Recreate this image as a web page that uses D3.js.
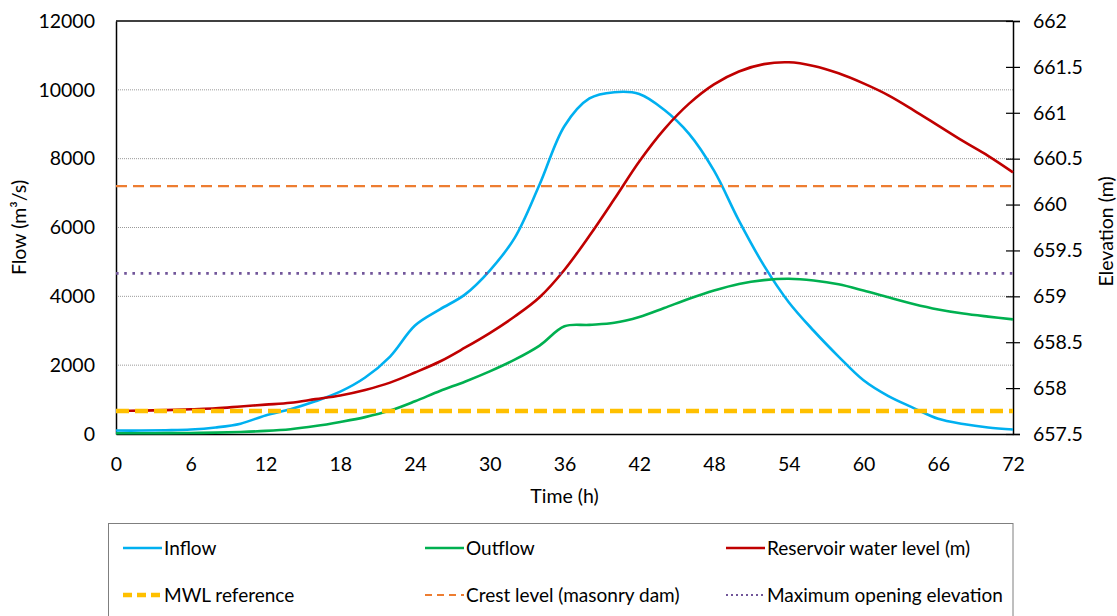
<!DOCTYPE html>
<html>
<head>
<meta charset="utf-8">
<script src="https://cdn.jsdelivr.net/npm/d3@7/dist/d3.min.js"></script>
<style>
  html, body { margin: 0; padding: 0; background: #fff; }
  svg { display: block; font-family: Lato, "Open Sans", sans-serif; }
</style>
</head>
<body>
<svg id="chart" width="1117" height="616"></svg>
<script>
// Time axis (hours), sampled every 2 h
const hours = [0,2,4,6,8,10,12,14,16,18,20,22,24,26,28,30,32,34,36,38,40,42,44,46,48,50,52,54,56,58,60,62,64,66,68,70,72];

// Inflow hydrograph (m³/s)
const inflow = [100,100,110,130,190,300,540,720,950,1230,1640,2250,3150,3620,4050,4750,5700,7250,8950,9750,9930,9880,9420,8720,7650,6200,4900,3830,3000,2250,1560,1100,760,440,290,190,130];

// Outflow hydrograph (m³/s)
const outflow = [20,20,25,30,40,60,90,140,230,350,490,680,950,1250,1520,1820,2160,2570,3130,3170,3230,3400,3660,3930,4170,4360,4470,4510,4460,4350,4170,3970,3780,3620,3500,3410,3330];

// Reservoir water level (m)
const level = [657.75,657.755,657.76,657.77,657.78,657.8,657.82,657.84,657.88,657.92,657.98,658.06,658.17,658.29,658.44,658.6,658.78,658.99,659.29,659.66,660.06,660.47,660.82,661.1,661.31,661.45,661.53,661.55,661.51,661.43,661.32,661.19,661.03,660.86,660.69,660.53,660.35];

// Reference elevations (m)
const mwlLevel = 657.75;
const crestLevel = 660.2;
const maxOpeningLevel = 659.25;

// Tick labels
const timeTicks = [0,6,12,18,24,30,36,42,48,54,60,66,72];
const flowTicks = [0,2000,4000,6000,8000,10000,12000];
const elevTicks = [657.5,658,658.5,659,659.5,660,660.5,661,661.5,662];

const legendLabels = ["Inflow","Outflow","Reservoir water level (m)","MWL reference","Crest level (masonry dam)","Maximum opening elevation"];

const C = { inflow:"#00B0F0", outflow:"#00B050", level:"#C00000", mwl:"#FFC000", crest:"#ED7D31", maxOpen:"#72569A" };

const svg = d3.select("#chart");
const L = 116, R = 1013, T = 21, B = 434;

const x = d3.scaleLinear().domain([0,72]).range([L,R]);
const yL = d3.scaleLinear().domain([0,12000]).range([B,T]);
const yR = d3.scaleLinear().domain([657.5,662]).range([B,T]);

const FS = 19.5;

// Gridlines on the flow axis
svg.append("g").selectAll("line")
  .data(flowTicks.filter(v => v > 0 && v < 12000))
  .join("line")
  .attr("x1", L).attr("x2", R)
  .attr("y1", d => yL(d)).attr("y2", d => yL(d))
  .attr("stroke", "#9a9a9a").attr("stroke-width", 1)
  .attr("stroke-dasharray", "1,1");

// Left axis (flow)
const gL = svg.append("g").attr("transform", `translate(${L},0)`)
  .call(d3.axisLeft(yL).tickValues(flowTicks).tickSize(0).tickPadding(21).tickFormat(d3.format("d")));
gL.select(".domain").attr("stroke", "#000").attr("stroke-width", 1.5);
gL.selectAll("text").attr("font-size", FS).attr("font-family", "Lato").attr("fill", "#000");

// Right axis (elevation) with crossing ticks
const gR = svg.append("g").attr("transform", `translate(${R},0)`)
  .call(d3.axisRight(yR).tickValues(elevTicks).tickSize(7).tickPadding(13).tickFormat(d => String(d)));
gR.select(".domain").attr("stroke", "#000").attr("stroke-width", 1.5);
gR.selectAll(".tick line").attr("x1", -7).attr("stroke", "#000").attr("stroke-width", 1.2);
gR.selectAll("text").attr("font-size", FS).attr("font-family", "Lato").attr("fill", "#000");

// Bottom axis (time)
const gB = svg.append("g").attr("transform", `translate(0,${B})`)
  .call(d3.axisBottom(x).tickValues(timeTicks).tickSize(0).tickPadding(23));
gB.select(".domain").attr("stroke", "#000").attr("stroke-width", 1.5);
gB.selectAll("text").attr("font-size", FS).attr("font-family", "Lato").attr("fill", "#000");

// Top border
svg.append("line").attr("x1", L).attr("x2", R).attr("y1", T).attr("y2", T)
  .attr("stroke", "#000").attr("stroke-width", 1.5);

// Axis titles
svg.append("text").attr("x", x(36)).attr("y", 503).attr("text-anchor", "middle")
  .attr("font-size", FS).attr("font-family", "Lato").text("Time (h)");
svg.append("text").attr("transform", `translate(26,${(T+B)/2}) rotate(-90)`).attr("text-anchor", "middle")
  .attr("font-size", FS).attr("font-family", "Lato").text("Flow (m³/s)");
svg.append("text").attr("transform", `translate(1113,${(T+B)/2 + 4}) rotate(-90)`).attr("text-anchor", "middle")
  .attr("font-size", FS).attr("font-family", "Lato").text("Elevation (m)");

// Series (smoothed)
const curve = d3.curveCatmullRom.alpha(0.5);
const lineL = d3.line().x((d,i) => x(hours[i])).y(d => yL(d)).curve(curve);
const lineR = d3.line().x((d,i) => x(hours[i])).y(d => yR(d)).curve(curve);

svg.append("path").datum(inflow).attr("d", lineL).attr("fill", "none")
  .attr("stroke", C.inflow).attr("stroke-width", 2.6);
svg.append("path").datum(outflow).attr("d", lineL).attr("fill", "none")
  .attr("stroke", C.outflow).attr("stroke-width", 2.6);
svg.append("path").datum(level).attr("d", lineR).attr("fill", "none")
  .attr("stroke", C.level).attr("stroke-width", 2.6);

// Reference levels
const refs = [
  { v: mwlLevel, color: C.mwl, w: 4.5, dash: "13,6" },
  { v: crestLevel, color: C.crest, w: 2.2, dash: "11,6" },
  { v: maxOpeningLevel, color: C.maxOpen, w: 2.6, dash: "2.6,5.6" }
];
svg.append("g").selectAll("line").data(refs).join("line")
  .attr("x1", L).attr("x2", R)
  .attr("y1", d => yR(d.v)).attr("y2", d => yR(d.v))
  .attr("stroke", d => d.color).attr("stroke-width", d => d.w)
  .attr("stroke-dasharray", d => d.dash);

// Legend
const lg = svg.append("g");
lg.append("rect").attr("x", 108.5).attr("y", 523.5).attr("width", 904.5).attr("height", 110)
  .attr("fill", "none").attr("stroke", "#7f7f7f").attr("stroke-width", 1);
const legendItems = [
  { color: C.inflow, w: 2.6, dash: null },
  { color: C.outflow, w: 2.6, dash: null },
  { color: C.level, w: 2.6, dash: null },
  { color: C.mwl, w: 4.5, dash: "9,5" },
  { color: C.crest, w: 2, dash: "7,5" },
  { color: C.maxOpen, w: 2, dash: "2,3" }
];
const colX = [123, 425, 726];
const rowY = [548, 595];
legendItems.forEach((it, i) => {
  const cx = colX[i % 3], cy = rowY[Math.floor(i / 3)];
  lg.append("line").attr("x1", cx).attr("x2", cx + 39).attr("y1", cy).attr("y2", cy)
    .attr("stroke", it.color).attr("stroke-width", it.w)
    .attr("stroke-dasharray", it.dash);
  lg.append("text").attr("x", cx + 41).attr("y", cy + 6.5)
    .attr("font-size", 19).attr("font-family", "Lato").attr("fill", "#000")
    .text(legendLabels[i]);
});
</script>
</body>
</html>
